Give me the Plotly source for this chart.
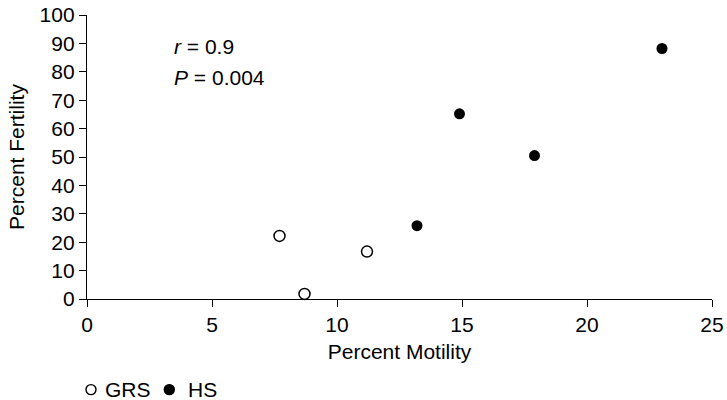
import plotly.graph_objects as go

# Percent motility (x) vs percent fertility (y) for each group
grs_motility = [7.7, 8.7, 11.2]
grs_fertility = [22.2, 1.8, 16.7]

hs_motility = [13.2, 14.9, 17.9, 23.0]
hs_fertility = [25.8, 65.2, 50.5, 88.2]

x_ticks = [0, 5, 10, 15, 20, 25]
y_ticks = [0, 10, 20, 30, 40, 50, 60, 70, 80, 90, 100]

FONT = "Liberation Sans, Arial, Helvetica, sans-serif"
FS = 21

fig = go.Figure()
fig.add_trace(go.Scatter(
    x=grs_motility, y=grs_fertility, mode="markers", name="GRS",
    marker=dict(symbol="circle-open", size=11, color="black", line=dict(width=1.5)),
    cliponaxis=False,
))
fig.add_trace(go.Scatter(
    x=hs_motility, y=hs_fertility, mode="markers", name="HS",
    marker=dict(symbol="circle", size=11, color="black"),
    cliponaxis=False,
))

# Correlation statistics
fig.add_annotation(x=3.4, y=88.8, xref="x", yref="y", text="<i>r</i> = 0.9",
                   showarrow=False, xanchor="left", yanchor="middle",
                   font=dict(size=FS, color="black", family=FONT))
fig.add_annotation(x=3.4, y=77.9, xref="x", yref="y", text="<i>P</i> = 0.004",
                   showarrow=False, xanchor="left", yanchor="middle",
                   font=dict(size=FS, color="black", family=FONT))

# Compact key below the x-axis title: symbol followed by group name
legend_y = -0.319
key_items = [
    (0.0064, 0.0256, "GRS", "white"),
    (0.1317, 0.1576, "HS", "black"),
]
for sym_x, text_x, label, fill in key_items:
    fig.add_shape(type="circle", xref="paper", yref="paper",
                  xsizemode="pixel", ysizemode="pixel",
                  xanchor=sym_x, yanchor=legend_y,
                  x0=-5, x1=5, y0=-5, y1=5,
                  line=dict(color="black", width=1.4), fillcolor=fill)
    fig.add_annotation(x=text_x, y=legend_y, xref="paper", yref="paper", text=label,
                       showarrow=False, xanchor="left", yanchor="middle",
                       font=dict(size=FS, color="black", family=FONT))

axis_common = dict(
    showgrid=False, zeroline=False, showline=True, linecolor="black", linewidth=1.3,
    ticks="outside", ticklen=7, tickwidth=1.3, tickcolor="black",
    tickfont=dict(size=FS, color="black", family=FONT),
)

fig.update_layout(
    width=727, height=400,
    margin=dict(l=87, r=15, t=15, b=101, autoexpand=False),
    paper_bgcolor="white", plot_bgcolor="white",
    font=dict(family=FONT, size=FS, color="black"),
    xaxis=dict(range=[0, 25], tickvals=x_ticks,
               title=dict(text="Percent Motility", font=dict(size=FS), standoff=8),
               **axis_common),
    yaxis=dict(range=[0, 100], tickvals=y_ticks,
               title=dict(text="Percent Fertility", font=dict(size=FS), standoff=9),
               **axis_common),
    showlegend=False,
)

fig.write_html("out.html")
